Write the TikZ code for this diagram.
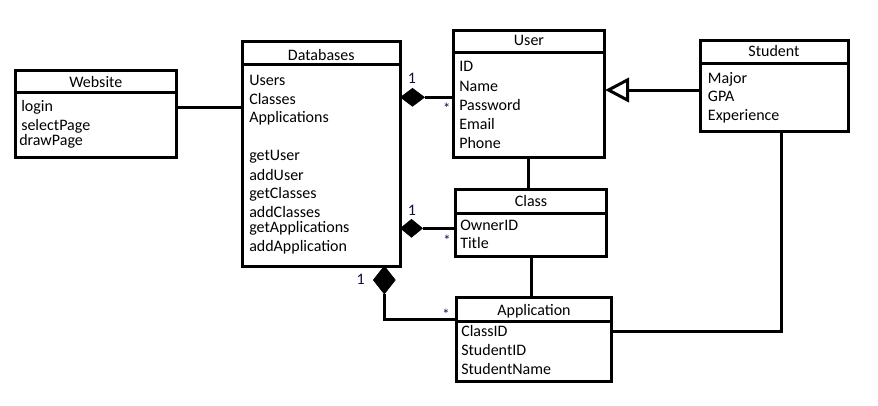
\documentclass[tikz,border=0pt]{standalone}
\usepackage{fontspec}
\setmainfont{Carlito}
\usetikzlibrary{shapes.geometric,arrows.meta}
\definecolor{multc}{RGB}{15,15,70}
\begin{document}
\begin{tikzpicture}[x=0.75pt,y=-0.75pt,
  box/.style={draw, line width=2.25pt, rectangle, inner sep=0, outer sep=0, anchor=north west},
  txt/.style={anchor=base west, inner sep=0, font=\fontsize{12}{14}\selectfont},
  ttl/.style={anchor=base, inner sep=0, font=\fontsize{12}{14}\selectfont},
  lnk/.style={line width=2.25pt},
  diam/.style={diamond, fill=black, draw=black, line width=0.4pt, inner sep=0, outer sep=0},
  one/.style={inner sep=0, font=\fontsize{12}{14}\selectfont, text=multc},
  many/.style={inner sep=0, anchor=north, font=\fontsize{11}{12}\selectfont, text=multc}]
\useasboundingbox (0,0) rectangle (878,405);
\fill[white] (0,0) rectangle (878,405);

% boxes
\node[box, minimum width=0.75*161.7pt, minimum height=0.75*87pt] (web) at (15,70) {};
\node[box, minimum width=0.75*158.5pt, minimum height=0.75*225pt] (db) at (242,41) {};
\node[box, minimum width=0.75*151.2pt, minimum height=0.75*127.7pt] (user) at (453.3,30) {};
\node[box, minimum width=0.75*148.3pt, minimum height=0.75*91.7pt] (stu) at (700,40) {};
\node[box, minimum width=0.75*151.7pt, minimum height=0.75*67pt] (cls) at (455,189) {};
\node[box, minimum width=0.75*155pt, minimum height=0.75*83.3pt] (app) at (456.7,297.7) {};

% header lines
\draw[lnk] (web.west |- 0,92) -- (web.east |- 0,92);
\draw[lnk] (db.west |- 0,64) -- (db.east |- 0,64);
\draw[lnk] (user.west |- 0,52.7) -- (user.east |- 0,52.7);
\draw[lnk] (stu.west |- 0,63.3) -- (stu.east |- 0,63.3);
\draw[lnk] (cls.west |- 0,213) -- (cls.east |- 0,213);
\draw[lnk] (app.west |- 0,321) -- (app.east |- 0,321);

% titles
\node[ttl] (webT) at (95.8,87.7) {Website};
\node[ttl] (dbT) at (321.3,60) {Databases};
\node[ttl] (userT) at (529,45) {User};
\node[ttl] (stuT) at (774,56.7) {Student};
\node[ttl] (clsT) at (531,206) {Class};
\node[ttl] (appT) at (534,315) {Application};

% website items
\node[txt] (w1) at (21,111) {login};
\node[txt] (w2) at (21,130) {selectPage};
\node[txt] (w3) at (19,145.3) {drawPage};

% database items
\node[txt] (d1) at (249,85) {Users};
\node[txt] (d2) at (249,104) {Classes};
\node[txt] (d3) at (249,122.7) {Applications};
\node[txt] (d4) at (249,160.7) {getUser};
\node[txt] (d5) at (249,180) {addUser};
\node[txt] (d6) at (249,198.7) {getClasses};
\node[txt] (d7) at (249,217.7) {addClasses};
\node[txt] (d8) at (249,232.7) {getApplications};
\node[txt] (d9) at (249,251.7) {addApplication};

% user items
\node[txt] (u1) at (459,71.7) {ID};
\node[txt] (u2) at (459,91) {Name};
\node[txt] (u3) at (459,110) {Password};
\node[txt] (u4) at (459,129) {Email};
\node[txt] (u5) at (459,148.3) {Phone};

% student items
\node[txt] (s1) at (707.7,83.3) {Major};
\node[txt] (s2) at (707.7,101.7) {GPA};
\node[txt] (s3) at (707.7,120.7) {Experience};

% class items
\node[txt] (c1) at (460,230) {OwnerID};
\node[txt] (c2) at (460,248.3) {Title};

% application items
\node[txt] (a1) at (461,336) {ClassID};
\node[txt] (a2) at (461,355) {StudentID};
\node[txt] (a3) at (461,374) {StudentName};

% diamonds
\node[diam, anchor=west, minimum width=0.75*24pt, minimum height=0.75*18pt] (dmU) at (db.east |- 0,97.3) {};
\node[diam, anchor=west, minimum width=0.75*22pt, minimum height=0.75*18pt] (dmC) at (db.east |- 0,228.3) {};
\node[diam, anchor=north, minimum width=0.75*22pt, minimum height=0.75*28pt] (dmA) at (384.3,266) {};
\coordinate (bend) at (384.3,319);

% connectors
\draw[lnk] (web.east |- 0,107) -- (db.west |- 0,107);
\draw[lnk] (dmU.east) -- (user.west |- dmU.east);
\draw[lnk] (dmC.east) -- (cls.west |- dmC.east);
\draw[lnk] (dmA.south) -- (bend) -- (app.west |- bend);
\draw[lnk] (user.south -| 528.3,0) -- (cls.north -| 528.3,0);
\draw[lnk] (cls.south -| 531.7,0) -- (app.north -| 531.7,0);
\coordinate (sbend) at (781.7,331);
\draw[lnk] (stu.south -| sbend) -- (sbend) -- (app.east |- sbend);
% generalisation
\coordinate (tip) at ([xshift=0.75*4pt]user.east |- 0,90);
\coordinate (tbase) at (627.7,90);
\draw[lnk] (stu.west |- tbase) -- (tbase);
\draw[lnk, fill=white, line join=miter] (tip) -- (627.7,79.8) -- (627.7,100.2) -- cycle;

% multiplicities
\node[one] (m1) at (412,78) {1};
\node[one] (m2) at (412,210) {1};
\node[one] (m3) at (360.7,279.5) {1};
\node[many] (s1m) at (446.7,102.5) {*};
\node[many] (s2m) at (447,234.5) {*};
\node[many] (s3m) at (446,308.5) {*};
\end{tikzpicture}
\end{document}
